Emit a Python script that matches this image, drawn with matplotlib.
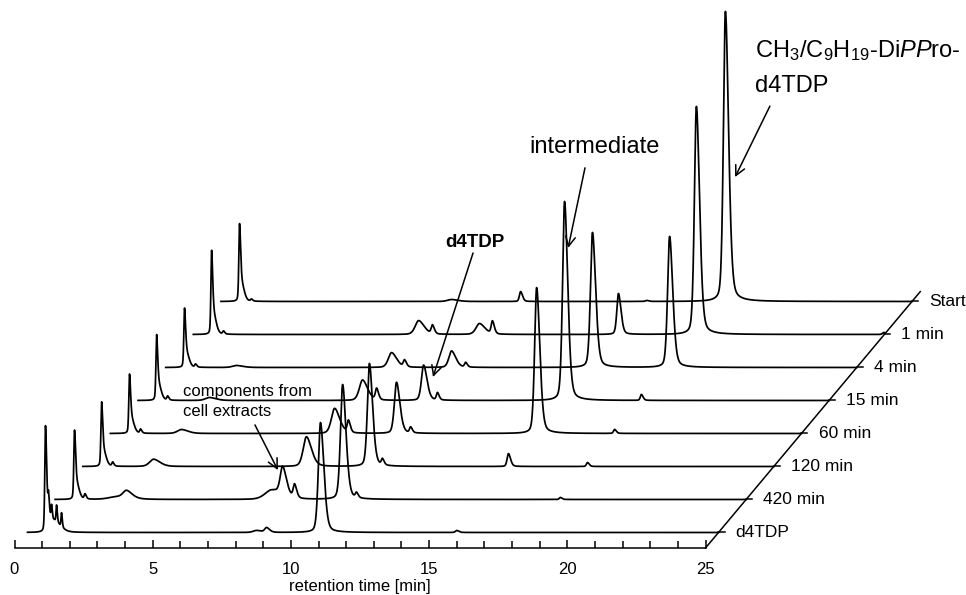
import numpy as np
import matplotlib
matplotlib.use('Agg')
import matplotlib.pyplot as plt

plt.rcParams['font.family'] = ['Liberation Sans', 'DejaVu Sans']
plt.rcParams['mathtext.fontset'] = 'custom'
plt.rcParams['mathtext.rm'] = 'Liberation Sans'
plt.rcParams['mathtext.it'] = 'Liberation Sans:italic'

# trace labels, front (bottom) to back (top)
labels = ['d4TDP', '420 min', '120 min', '60 min', '15 min', '4 min', '1 min', 'Start']

# peaks: (retention time [min], height, width)
# heights are in units of the spacing between two traces
peaks_d4tdp = [(1.12, 2.98, 0.025), (1.20, 0.55, 0.06), (1.45, 0.32, 0.14), (1.23, 0.50, 0.018),
               (1.34, 0.40, 0.018), (1.52, 0.50, 0.018), (1.70, 0.42, 0.018), (8.75, 0.06, 0.12),
               (9.12, 0.14, 0.07), (11.07, 3.33, 0.08), (16.0, 0.06, 0.05)]
peaks_420 = [(1.17, 1.92, 0.025), (1.25, 0.45, 0.06), (1.55, 0.15, 0.03), (2.7, 0.08, 0.3),
             (3.05, 0.22, 0.13), (8.3, 0.28, 0.25), (8.70, 0.85, 0.09), (9.13, 0.40, 0.05),
             (10.87, 3.48, 0.08), (11.37, 0.15, 0.04), (18.75, 0.06, 0.04)]
peaks_120 = [(1.15, 1.79, 0.025), (1.23, 0.42, 0.06), (1.55, 0.12, 0.03), (3.03, 0.22, 0.15),
             (8.56, 0.90, 0.12), (10.84, 3.12, 0.075), (11.31, 0.18, 0.04), (15.87, 0.39, 0.05),
             (18.73, 0.12, 0.04)]
peaks_60 = [(1.16, 1.64, 0.025), (1.24, 0.40, 0.06), (1.56, 0.12, 0.03), (3.04, 0.12, 0.15),
            (8.58, 0.76, 0.12), (9.08, 0.36, 0.045), (10.82, 1.55, 0.08), (11.33, 0.17, 0.04),
            (15.89, 4.42, 0.075), (18.71, 0.12, 0.04)]
peaks_15 = [(1.14, 1.82, 0.025), (1.22, 0.44, 0.06), (1.54, 0.12, 0.03), (3.05, 0.09, 0.15),
            (8.59, 0.62, 0.12), (9.10, 0.34, 0.045), (10.80, 1.07, 0.08), (11.30, 0.22, 0.04),
            (15.90, 6.03, 0.075), (18.68, 0.18, 0.04)]
peaks_4 = [(1.15, 1.64, 0.025), (1.23, 0.40, 0.06), (1.55, 0.09, 0.03), (3.03, 0.06, 0.15),
           (8.64, 0.45, 0.12), (9.11, 0.20, 0.045), (10.81, 0.50, 0.10), (11.32, 0.14, 0.04),
           (15.91, 4.09, 0.075), (18.70, 3.97, 0.075)]
peaks_1 = [(1.13, 2.33, 0.025), (1.21, 0.55, 0.06), (1.56, 0.09, 0.03), (8.62, 0.42, 0.13),
           (9.12, 0.26, 0.045), (10.82, 0.33, 0.13), (11.29, 0.38, 0.045), (15.85, 1.24, 0.06),
           (18.67, 6.91, 0.075), (25.45, 0.06, 0.05)]
peaks_start = [(1.14, 2.16, 0.025), (1.22, 0.50, 0.06), (1.57, 0.06, 0.03), (8.81, 0.06, 0.15),
               (11.31, 0.30, 0.045), (15.87, 0.03, 0.05), (18.72, 8.79, 0.075)]

all_peaks = [peaks_d4tdp, peaks_420, peaks_120, peaks_60, peaks_15, peaks_4, peaks_1, peaks_start]

t0, t1 = 0.47, 25.47      # recorded time range
shift = 1.0               # x shift (min) per trace
base0 = 0.47              # baseline of the front trace
tail = 1.6                # peak tailing


def peak(t, c, h, w):
    s = np.where(t < c, w, w * tail)
    z = (t - c) / s
    return h * (0.65 * np.exp(-0.5 * z ** 2) + 0.35 / (1 + z ** 2))


fig = plt.figure(figsize=(9.66, 5.95), dpi=100)
px_min, px_unit = 27.64, 33.0
ax = fig.add_axes([14.5 / 966, 47 / 595, 951.5 / 966, 548 / 595])
ax.set_xlim(0, 951.5 / px_min)
ax.set_ylim(0, 548 / px_unit)

t = np.linspace(t0, t1, 12501)
for k, (lab, pk) in enumerate(zip(labels, all_peaks)):
    base = base0 + k
    y = np.full_like(t, base)
    for c, h, w in pk:
        y += peak(t, c, h, w)
    ax.plot(t + k * shift, y, color='k', lw=1.25, clip_on=False)
    xd = 25 + base
    ax.plot([xd, xd + 0.22], [base, base], color='k', lw=1.1, clip_on=False)
    ax.text(xd + 0.62, base, lab, fontsize=12.5, va='center', ha='left')

# depth axis
top = base0 + len(labels) - 1 + 0.3
ax.plot([25, 25 + top], [0, top], color='k', lw=1.1, clip_on=False)

# x axis
for s in ['left', 'right', 'top']:
    ax.spines[s].set_visible(False)
ax.spines['bottom'].set_bounds(0, 25)
ax.spines['bottom'].set_linewidth(1.1)
ax.set_yticks([])
ax.set_xticks(range(0, 26, 5))
ax.set_xticks(range(0, 26), minor=True)
ax.tick_params(axis='x', which='both', direction='in', width=1.1, labelsize=12, pad=10)
ax.tick_params(axis='x', which='major', length=6)
ax.tick_params(axis='x', which='minor', length=5)
ax.text(12.5, -1.30, 'retention time [min]', fontsize=12, ha='center', va='baseline')

# annotations
arrow = dict(arrowstyle='->,head_length=0.5,head_width=0.25', color='k', lw=1.1,
             shrinkA=0, shrinkB=0, mutation_scale=14)
ax.text(26.79, 14.88, 'CH$_3$/C$_9$H$_{19}$-Di$\\mathit{PP}$ro-', fontsize=17, va='baseline')
ax.text(26.79, 13.82, 'd4TDP', fontsize=17, va='baseline')
ax.annotate('', xy=(26.07, 11.24), xytext=(27.33, 13.39), arrowprops=arrow)
ax.text(18.61, 11.97, 'intermediate', fontsize=17, va='baseline')
ax.annotate('', xy=(20.03, 9.09), xytext=(20.64, 11.52), arrowprops=arrow)
ax.text(15.58, 9.12, 'd4TDP', fontsize=13.5, fontweight='bold', va='baseline')
ax.annotate('', xy=(15.14, 5.18), xytext=(16.59, 8.94), arrowprops=arrow)
ax.text(6.10, 4.61, 'components from', fontsize=12, va='baseline')
ax.text(6.10, 4.00, 'cell extracts', fontsize=12, va='baseline')
ax.annotate('', xy=(9.53, 2.36), xytext=(8.70, 3.73), arrowprops=arrow)

fig.savefig('out.png', dpi=100)
